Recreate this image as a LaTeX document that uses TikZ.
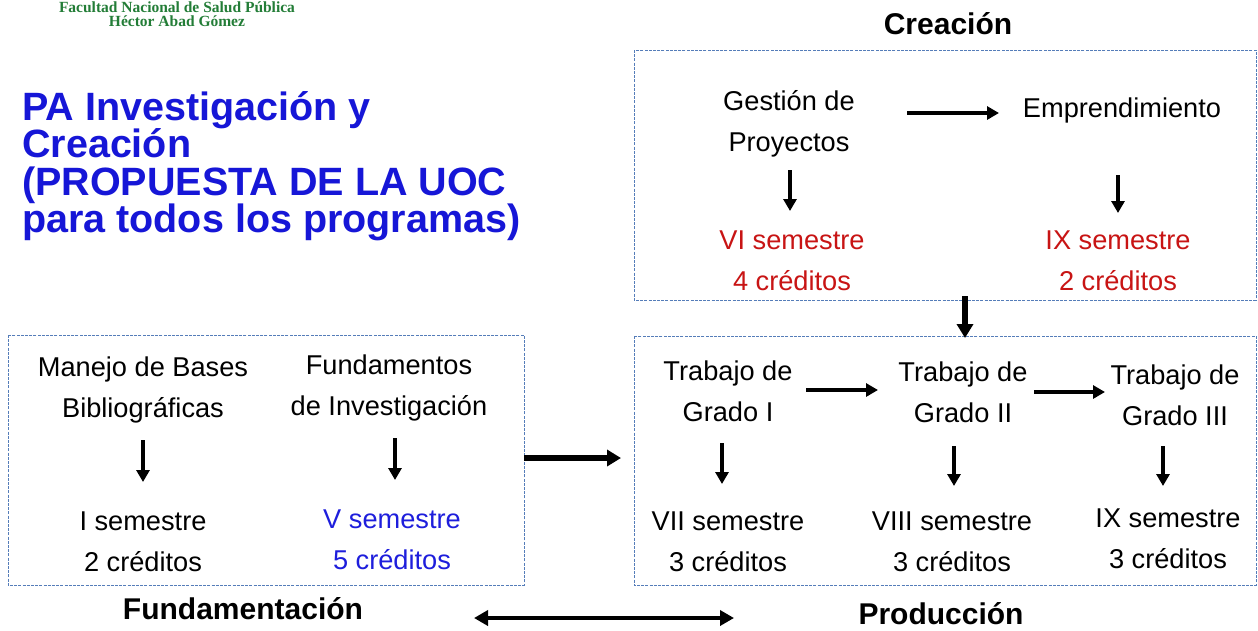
\documentclass[tikz,border=0pt]{standalone}
\usepackage{fontspec}
\setmainfont{Liberation Sans}
\newfontfamily\hdrserif{Liberation Serif}
\usetikzlibrary{arrows.meta}
\definecolor{hdrgreen}{RGB}{35,125,55}
\definecolor{titleblue}{RGB}{22,22,215}
\definecolor{semred}{RGB}{200,20,20}
\definecolor{semblue}{RGB}{30,30,220}
\definecolor{boxblue}{RGB}{85,125,185}
\begin{document}
\begin{tikzpicture}[x=1pt,y=-1pt,
  txt/.style={font=\fontsize{27.2}{41}\selectfont, align=center, inner sep=0pt},
  lbl/.style={font=\fontsize{30}{36}\selectfont\bfseries, inner sep=0pt},
  dbox/.style={draw=boxblue, line width=0.9pt, dash pattern=on 3pt off 1.2pt},
  arr/.style={-{Triangle[length=12pt,width=13pt]}, line width=3.2pt},
  bigarr/.style={-{Triangle[length=14pt,width=16pt]}, line width=5.5pt},
  dblarr/.style={{Triangle[length=14pt,width=15pt]}-{Triangle[length=14pt,width=15pt]}, line width=4.2pt}]
\useasboundingbox[fill=white] (0,0) rectangle (1258,630);

% header
\node[font=\hdrserif\bfseries\fontsize{15.5}{14}\selectfont, text=hdrgreen, align=center, inner sep=0pt] (hdr) at (177,14) {Facultad Nacional de Salud Pública\\Héctor Abad Gómez};

% title
\node[font=\fontsize{39.5}{37.5}\selectfont\bfseries, text=titleblue, align=left, anchor=west, inner sep=0pt] (title) at (22,166) {PA Investigación y\\Creación\\(PROPUESTA DE LA UOC\\para todos los programas)};

% boxes
\draw[dbox] (634,50) rectangle (1256,300);
\draw[dbox] (634,336) rectangle (1256,585);
\draw[dbox] (8,335) rectangle (524,585);

% section labels
\node[lbl] (crea) at (948,24) {Creación};
\node[lbl] (fund) at (243,609) {Fundamentación};
\node[lbl] (prod) at (941,614) {Producción};

% Creacion box content
\node[txt] (gp) at (789,124) {Gestión de\\Proyectos};
\node[txt] (em) at (1122,110) {Emprendimiento};
\node[txt, text=semred] (s6) at (792,261) {VI semestre\\4 créditos};
\node[txt, text=semred] (s9a) at (1118,261) {IX semestre\\2 créditos};

% Fundamentacion box content
\node[txt] (mb) at (143,390) {Manejo de Bases\\Bibliográficas};
\node[txt] (fi) at (389,388) {Fundamentos\\de Investigación};
\node[txt] (s1) at (143,542) {I semestre\\2 créditos};
\node[txt, text=semblue] (s5) at (392,540) {V semestre\\5 créditos};

% Produccion box content
\node[txt] (tg1) at (728,391) {Trabajo de\\Grado I};
\node[txt] (tg2) at (963,392) {Trabajo de\\Grado II};
\node[txt] (tg3) at (1175,395) {Trabajo de\\Grado III};
\node[txt] (s7) at (728,542) {VII semestre\\3 créditos};
\node[txt] (s8) at (952,542) {VIII semestre\\3 créditos};
\node[txt] (s9b) at (1168,539) {IX semestre\\3 créditos};

% arrow end points
\coordinate (a1s) at (790,170); \coordinate (a1e) at (790,211);
\coordinate (a2s) at (1118,175); \coordinate (a2e) at (1118,213);
\coordinate (a3s) at (907,113); \coordinate (a3e) at (999,113);
\coordinate (a4s) at (143,440); \coordinate (a4e) at (143,482);
\coordinate (a5s) at (395,438); \coordinate (a5e) at (395,480);
\coordinate (a6s) at (722,443); \coordinate (a6e) at (722,484);
\coordinate (a7s) at (954,446); \coordinate (a7e) at (954,486);
\coordinate (a8s) at (1163,446); \coordinate (a8e) at (1163,486);
\coordinate (a9s) at (806,390); \coordinate (a9e) at (878,390);
\coordinate (a10s) at (1034,392); \coordinate (a10e) at (1105,392);
\coordinate (b1s) at (965,296); \coordinate (b1e) at (965,338);
\coordinate (b2s) at (524,458); \coordinate (b2e) at (621,458);
\coordinate (b3s) at (474,618); \coordinate (b3e) at (734,618);

\draw[arr] (a1s) -- (a1e);
\draw[arr] (a2s) -- (a2e);
\draw[arr] (a3s) -- (a3e);
\draw[arr] (a4s) -- (a4e);
\draw[arr] (a5s) -- (a5e);
\draw[arr] (a6s) -- (a6e);
\draw[arr] (a7s) -- (a7e);
\draw[arr] (a8s) -- (a8e);
\draw[arr] (a9s) -- (a9e);
\draw[arr] (a10s) -- (a10e);
\draw[bigarr] (b1s) -- (b1e);
\draw[bigarr] (b2s) -- (b2e);
\draw[dblarr] (b3s) -- (b3e);
\end{tikzpicture}
\end{document}
